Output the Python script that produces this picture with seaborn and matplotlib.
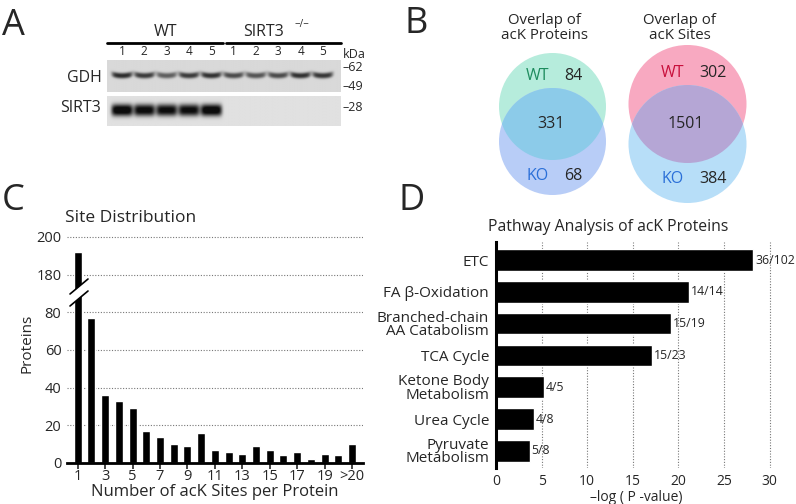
import numpy as np
import seaborn as sns
import matplotlib.pyplot as plt
import matplotlib.transforms as mtransforms
from matplotlib.patches import Circle, Polygon
from matplotlib.lines import Line2D

# ---- data ----
lane_labels = ['1', '2', '3', '4', '5', '1', '2', '3', '4', '5']
gdh_signal = [0.68, 0.62, 0.48, 0.62, 0.66, 0.56, 0.52, 0.56, 0.66, 0.64]
sirt3_signal = [0.95, 0.88, 0.86, 0.86, 0.95, 0, 0, 0, 0, 0]
gdh_markers = ['62', '49']
sirt3_markers = ['28']

protein_counts = [84, 331, 68]     # WT only, both, KO only
site_counts = [302, 1501, 384]

site_bins = [str(i) for i in range(1, 21)] + ['>20']
site_proteins = [192, 77, 36, 33, 29, 17, 14, 10, 9, 16, 7, 6, 5, 9, 7, 4, 6, 2, 5, 4, 10]
site_ticklabels = ['1', '3', '5', '7', '9', '11', '13', '15', '17', '19', '>20']

pathways = ['ETC', 'FA β-Oxidation', 'Branched-chain\nAA Catabolism', 'TCA Cycle',
            'Ketone Body\nMetabolism', 'Urea Cycle', 'Pyruvate\nMetabolism']
neg_log_p = [28.2, 21.2, 19.2, 17.1, 5.3, 4.2, 3.7]
ratio_labels = ['36/102', '14/14', '15/19', '15/23', '4/5', '4/8', '5/8']

sns.set_style('white')
plt.rcParams['font.family'] = ['Open Sans', 'DejaVu Sans']

W, H = 796, 504
fig = plt.figure(figsize=(W / 100, H / 100), dpi=100)


def box(l, t, r, b):
    return [l / W, 1 - b / H, (r - l) / W, (b - t) / H]


def fx(x):
    return x / W


def fy(y):
    return 1 - y / H


# panel letters
for letter, x, y in [('A', 2, 35), ('B', 405, 33), ('C', 2, 210), ('D', 399, 210)]:
    fig.text(fx(x), fy(y), letter, fontsize=26, va='baseline', ha='left')

# ---- A: western blot ----
x0, x1 = 0.33, 10.81
lane_pos = np.arange(1, 11)
xs = np.linspace(x0, x1, 500)


def blot_image(signal, yc, sy, hw, bg, smile):
    yy = np.linspace(1, 0, 80)[:, None]
    img = np.full((80, xs.size), bg)
    for pos, amp in zip(lane_pos, signal):
        dx = xs[None, :] - pos
        c = yc + smile * (dx / hw) ** 2
        img = img - amp * np.exp(-np.abs(dx / hw) ** 6) * np.exp(-np.abs((yy - c) / sy) ** 2.5)
    return np.clip(img, 0.05, 1)


ax_g = fig.add_axes(box(107, 60, 341, 92))
ax_g.imshow(blot_image(gdh_signal, 0.51, 0.09, 0.46, 0.85, 0.05), cmap='gray', vmin=0, vmax=1,
            extent=(x0, x1, 0, 1), aspect='auto', interpolation='bilinear')
ax_s = fig.add_axes(box(107, 96, 341, 126))
ax_s.imshow(blot_image(sirt3_signal, 0.53, 0.2, 0.48, 0.88, 0.0), cmap='gray', vmin=0, vmax=1,
            extent=(x0, x1, 0, 1), aspect='auto', interpolation='bilinear')
for ax in (ax_g, ax_s):
    ax.set_xlim(x0, x1)
    ax.set_ylim(0, 1)
    ax.set_yticks([])
    for s in ax.spines.values():
        s.set_visible(False)
ax_s.set_xticks([])
ax_g.xaxis.tick_top()
ax_g.set_xticks(lane_pos, lane_labels)
ax_g.tick_params(axis='x', length=0, pad=1.5, labelsize=8.5)

tr = mtransforms.blended_transform_factory(ax_g.transData, ax_g.transAxes)
ax_g.plot([x0, 5.52], [1.53, 1.53], color='black', lw=2, transform=tr, clip_on=False)
ax_g.plot([5.66, x1], [1.53, 1.53], color='black', lw=2, transform=tr, clip_on=False)
ax_g.text(2.97, 1.86, 'WT', transform=tr, ha='center', va='center', fontsize=11.5)
ax_g.text(7.35, 1.86, 'SIRT3', transform=tr, ha='center', va='center', fontsize=11.5)
ax_g.text(9.05, 2.12, '\u2212/\u2212', transform=tr, ha='center', va='center', fontsize=7)

fig.text(fx(102), fy(78), 'GDH', ha='right', va='center', fontsize=11.5)
fig.text(fx(101), fy(108), 'SIRT3', ha='right', va='center', fontsize=11.5)
fig.text(fx(354), fy(55), 'kDa', ha='center', va='center', fontsize=9)
for lab, yy in zip(gdh_markers, [0.78, 0.16]):
    ax_g.text(1.005, yy, '\u2013' + lab, transform=ax_g.transAxes, ha='left', va='center', fontsize=9)
for lab, yy in zip(sirt3_markers, [0.63]):
    ax_s.text(1.005, yy, '\u2013' + lab, transform=ax_s.transAxes, ha='left', va='center', fontsize=9)

# ---- B: Venn diagrams ----
ax_v = fig.add_axes(box(400, 0, 796, 230))
ax_v.set_xlim(400, 796)
ax_v.set_ylim(230, 0)
ax_v.axis('off')


def venn(cx, r, ytop, ybot, counts, c_wt, c_ko, c_both, wt_color, title):
    wt = Circle((cx, ytop), r, color=c_wt, lw=0)
    ko = Circle((cx, ybot), r, color=c_ko, lw=0)
    ax_v.add_patch(wt)
    ax_v.add_patch(ko)
    both = Circle((cx, ybot), r, color=c_both, lw=0)
    ax_v.add_patch(both)
    both.set_clip_path(wt)
    ax_v.text(cx - 8, 28, title, ha='center', va='center', fontsize=10.8, linespacing=1.05)
    ax_v.text(cx - 15, ytop - 31, 'WT', color=wt_color, ha='center', va='center', fontsize=11.5)
    ax_v.text(cx + 12, ytop - 31, str(counts[0]), ha='left', va='center', fontsize=11.5)
    ax_v.text(cx - 2, (ytop + ybot) / 2, str(counts[1]), ha='center', va='center', fontsize=11.5)
    ax_v.text(cx - 15, ybot + 35, 'KO', color='#2a6fd8', ha='center', va='center', fontsize=11.5)
    ax_v.text(cx + 12, ybot + 35, str(counts[2]), ha='left', va='center', fontsize=11.5)


venn(552.5, 53.5, 106.5, 141.5, protein_counts, '#b6ecdc', '#b8cdf7', '#8ccbe9', '#1e8c5e',
     'Overlap of\nacK Proteins')
venn(687.5, 59, 104, 144, site_counts, '#f8a9c1', '#b7def8', '#b5a6d5', '#c8103c',
     'Overlap of\nacK Sites')

# ---- C: site distribution (broken axis) ----
ax_lo = fig.add_axes(box(67, 292, 363, 463))
ax_hi = fig.add_axes(box(67, 236, 363, 292))
for ax in (ax_lo, ax_hi):
    sns.barplot(x=site_bins, y=site_proteins, color='black', saturation=1, width=0.58, ax=ax)
    ax.set_xlim(-0.78, 20.8)
    ax.yaxis.grid(True, linestyle=(0, (1, 1.5)), color='#777777', lw=0.8)
    ax.set_axisbelow(True)
    for s in ax.spines.values():
        s.set_visible(False)
    ax.tick_params(axis='y', length=0, pad=4, labelsize=10.5)
    ax.set_xlabel('')
    ax.set_ylabel('')
ax_lo.set_ylim(0, 90.6)
ax_lo.set_yticks([0, 20, 40, 60, 80])
ax_hi.set_ylim(171, 200.5)
ax_hi.set_yticks([180, 200])
ax_hi.set_xticks([])
ax_lo.spines['bottom'].set_visible(True)
ax_lo.spines['bottom'].set_linewidth(2)
ax_lo.spines['bottom'].set_color('black')
ax_lo.set_xticks(range(0, 21, 2), site_ticklabels)
ax_lo.tick_params(axis='x', bottom=True, length=4, width=1.2, pad=0.5, labelsize=10.5)
ax_lo.set_xlabel('Number of acK Sites per Protein', fontsize=12, labelpad=0)
fig.text(fx(27), fy(343), 'Proteins', rotation=90, ha='center', va='center', fontsize=11)
fig.text(fx(65), fy(218), 'Site Distribution', ha='left', va='center', fontsize=12.5)

# break marks
fig.add_artist(Polygon([(fx(70), fy(294)), (fx(88), fy(279)), (fx(88), fy(291)), (fx(70), fy(306))],
                       closed=True, facecolor='white', edgecolor='none', transform=fig.transFigure))
for ya, yb in [(294, 279), (306, 291)]:
    fig.add_artist(Line2D([fx(70), fx(88)], [fy(ya), fy(yb)], color='black', lw=1.2,
                          transform=fig.transFigure))

# ---- D: pathway analysis ----
ax_d = fig.add_axes(box(496, 242, 776, 468))
sns.barplot(x=neg_log_p, y=pathways, orient='h', color='black', saturation=1, width=0.68, ax=ax_d)
ax_d.set_xlim(0, 30.7)
ax_d.set_ylim(6.54, -0.57)
ax_d.set_xticks(range(0, 31, 5))
ax_d.xaxis.grid(True, linestyle=(0, (1, 1.5)), color='#777777', lw=0.8)
ax_d.set_axisbelow(True)
for side in ['top', 'right', 'bottom']:
    ax_d.spines[side].set_visible(False)
ax_d.spines['left'].set_linewidth(2.2)
ax_d.spines['left'].set_color('black')
ax_d.tick_params(axis='both', length=0)
ax_d.tick_params(axis='x', pad=4, labelsize=10)
ax_d.tick_params(axis='y', pad=5, labelsize=11)
for t in ax_d.get_yticklabels():
    t.set_linespacing(0.85)
for i, (v, lab) in enumerate(zip(neg_log_p, ratio_labels)):
    ax_d.text(v + 0.2, i, lab, ha='left', va='center', fontsize=8.8)
ax_d.set_xlabel('\u2013log ( P -value)', fontsize=10, labelpad=1)
ax_d.set_ylabel('')
fig.text(fx(608), fy(227), 'Pathway Analysis of acK Proteins', ha='center', va='center', fontsize=11.3)

fig.savefig('out.png', dpi=100)
